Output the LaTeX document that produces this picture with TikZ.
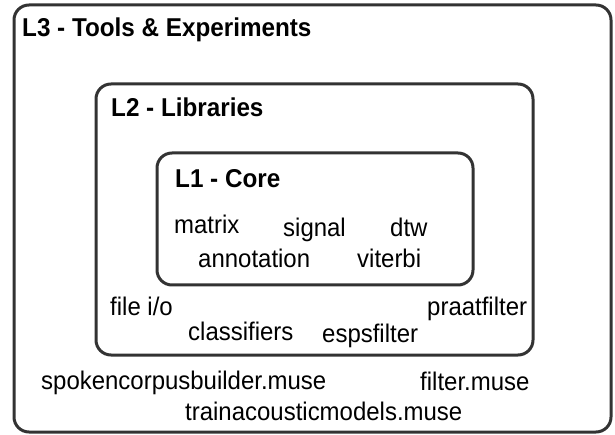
\documentclass[tikz,border=0pt]{standalone}
\usepackage{fontspec}
\setmainfont{Liberation Sans}[FakeStretch=0.94]
\usepackage{tikz}

\begin{document}
\begin{tikzpicture}[x=1pt,y=-1pt,
  layer/.style={draw=black!80,line width=3pt,rounded corners=15pt},
  lbl/.style={anchor=base west,inner sep=0pt,font=\fontsize{25.5}{30}\selectfont},
  title/.style={lbl,font=\fontsize{25.8}{30}\selectfont\bfseries}]
\useasboundingbox (0,0) rectangle (615,435);
\draw[layer] (14,5) rectangle (611,432);
\draw[layer] (96,84) rectangle (533,355);
\draw[layer] (157,153) rectangle (473,285);
\node[title] (l3) at (22,37) {L3 - Tools \& Experiments};
\node[title] (l2) at (111,117) {L2 - Libraries};
\node[title] (l1) at (175,188) {L1 - Core};
\node[lbl] (matrix) at (174,234) {matrix};
\node[lbl] (signal) at (283,237) {signal};
\node[lbl] (dtw) at (390,237) {dtw};
\node[lbl] (annot) at (198,268) {annotation};
\node[lbl] (viterbi) at (357,268) {viterbi};
\node[lbl] (fileio) at (110,316) {file i/o};
\node[lbl] (praat) at (427,316) {praatfilter};
\node[lbl] (classif) at (188,340) {classifiers};
\node[lbl] (esps) at (322,342) {espsfilter};
\node[lbl] (spoken) at (41,389) {spokencorpusbuilder.muse};
\node[lbl] (filtermuse) at (420,390) {filter.muse};
\node[lbl] (train) at (185,420) {trainacousticmodels.muse};
\end{tikzpicture}
\end{document}
